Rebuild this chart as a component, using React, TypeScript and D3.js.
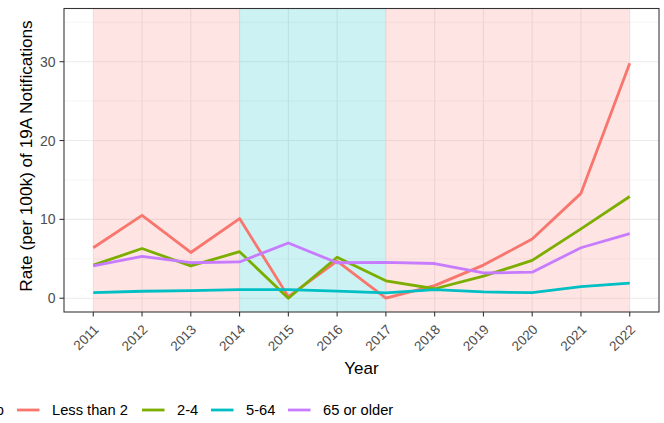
import React from "react";
import * as d3 from "d3";

const years = ["2011","2012","2013","2014","2015","2016","2017","2018","2019","2020","2021","2022"];
const lessThan2 = [6.4, 10.5, 5.8, 10.1, 0.2, 4.7, 0.0, 1.6, 4.2, 7.5, 13.3, 29.8];
const age2to4 = [4.2, 6.3, 4.1, 5.9, 0.0, 5.2, 2.2, 1.2, 2.8, 4.8, 8.8, 12.9];
const age5to64 = [0.72, 0.88, 0.97, 1.1, 1.1, 0.9, 0.68, 1.1, 0.8, 0.7, 1.48, 1.9];
const age65plus = [4.1, 5.3, 4.5, 4.6, 7.0, 4.5, 4.55, 4.4, 3.2, 3.3, 6.4, 8.2];
const seriesNames = ["Less than 2", "2-4", "5-64", "65 or older"];
const seriesColors = ["#F8766D", "#7CAE00", "#00BFC4", "#C77CFF"];
const yTicks = [0, 10, 20, 30];
const yMinor = [5, 15, 25, 35];
const periods = [
  { from: "2011", to: "2014", color: "#F8766D" },
  { from: "2014", to: "2017", color: "#00BFC4" },
  { from: "2017", to: "2022", color: "#F8766D" },
];

export default function App() {
  const W = 664, H = 423;
  const left = 64, right = 659, top = 8.5, bottom = 312;
  const x = d3.scaleLinear().domain([0.4, years.length + 0.6]).range([left, right]);
  const xi = (yr: string) => x(years.indexOf(yr) + 1);
  const y = d3.scaleLinear().domain([-1.75, 36.75]).range([bottom, top]);
  const all = [lessThan2, age2to4, age5to64, age65plus];
  const line = d3.line<number>().x((_, i) => x(i + 1)).y((v) => y(v));
  const font = "'Liberation Sans', Arial, sans-serif";
  const legendKeys = [17, 142, 211, 288];

  return (
    <svg width={W} height={H} style={{ position: "absolute", left: 0, top: 0 }} fontFamily={font}>
      <rect x={0} y={0} width={W} height={H} fill="white" />
      <defs>
        <clipPath id="panel">
          <rect x={left} y={top} width={right - left} height={bottom - top} />
        </clipPath>
      </defs>
      {yMinor.map((t) => (
        <line key={"m" + t} x1={left} x2={right} y1={y(t)} y2={y(t)} stroke="#EBEBEB" strokeWidth={0.55} />
      ))}
      {yTicks.map((t) => (
        <line key={"g" + t} x1={left} x2={right} y1={y(t)} y2={y(t)} stroke="#EBEBEB" strokeWidth={1.07} />
      ))}
      {years.map((yr) => (
        <line key={"v" + yr} x1={xi(yr)} x2={xi(yr)} y1={top} y2={bottom} stroke="#EBEBEB" strokeWidth={1.07} />
      ))}
      <g clipPath="url(#panel)">
        {periods.map((p, i) => (
          <rect key={i} x={xi(p.from)} y={top} width={xi(p.to) - xi(p.from)} height={bottom - top} fill={p.color} fillOpacity={0.2} />
        ))}
        {all.map((s, i) => (
          <path key={i} d={line(s) || ""} fill="none" stroke={seriesColors[i]} strokeWidth={2.8} strokeLinejoin="round" />
        ))}
      </g>
      <rect x={left} y={top} width={right - left} height={bottom - top} fill="none" stroke="#333333" strokeWidth={1.07} />
      {yTicks.map((t) => (
        <g key={"yt" + t}>
          <line x1={left - 4.5} x2={left} y1={y(t)} y2={y(t)} stroke="#333333" strokeWidth={1.07} />
          <text x={left - 8.5} y={y(t)} dy="0.36em" textAnchor="end" fontSize={14} fill="#4D4D4D">{t}</text>
        </g>
      ))}
      {years.map((yr) => (
        <g key={"xt" + yr}>
          <line x1={xi(yr)} x2={xi(yr)} y1={bottom} y2={bottom + 4.5} stroke="#333333" strokeWidth={1.07} />
          <text transform={`translate(${xi(yr) - 0.5},323.5) rotate(-45)`} textAnchor="end" dy="0.72em" fontSize={13.5} fill="#4D4D4D">{yr}</text>
        </g>
      ))}
      <text x={361.5} y={374} textAnchor="middle" fontSize={17} fill="black">Year</text>
      <text transform={`translate(32,156) rotate(-90)`} textAnchor="middle" fontSize={17.2} fill="black">Rate (per 100k) of 19A Notifications</text>
      <text x={4} y={415} textAnchor="end" fontSize={14.7} fill="black">Age Group</text>
      {seriesNames.map((n, i) => (
        <g key={n}>
          <line x1={legendKeys[i]} x2={legendKeys[i] + 22.5} y1={410} y2={410} stroke={seriesColors[i]} strokeWidth={2.8} />
          <text x={legendKeys[i] + 35} y={410} dy="0.36em" fontSize={14.7} fill="black">{n}</text>
        </g>
      ))}
    </svg>
  );
}
